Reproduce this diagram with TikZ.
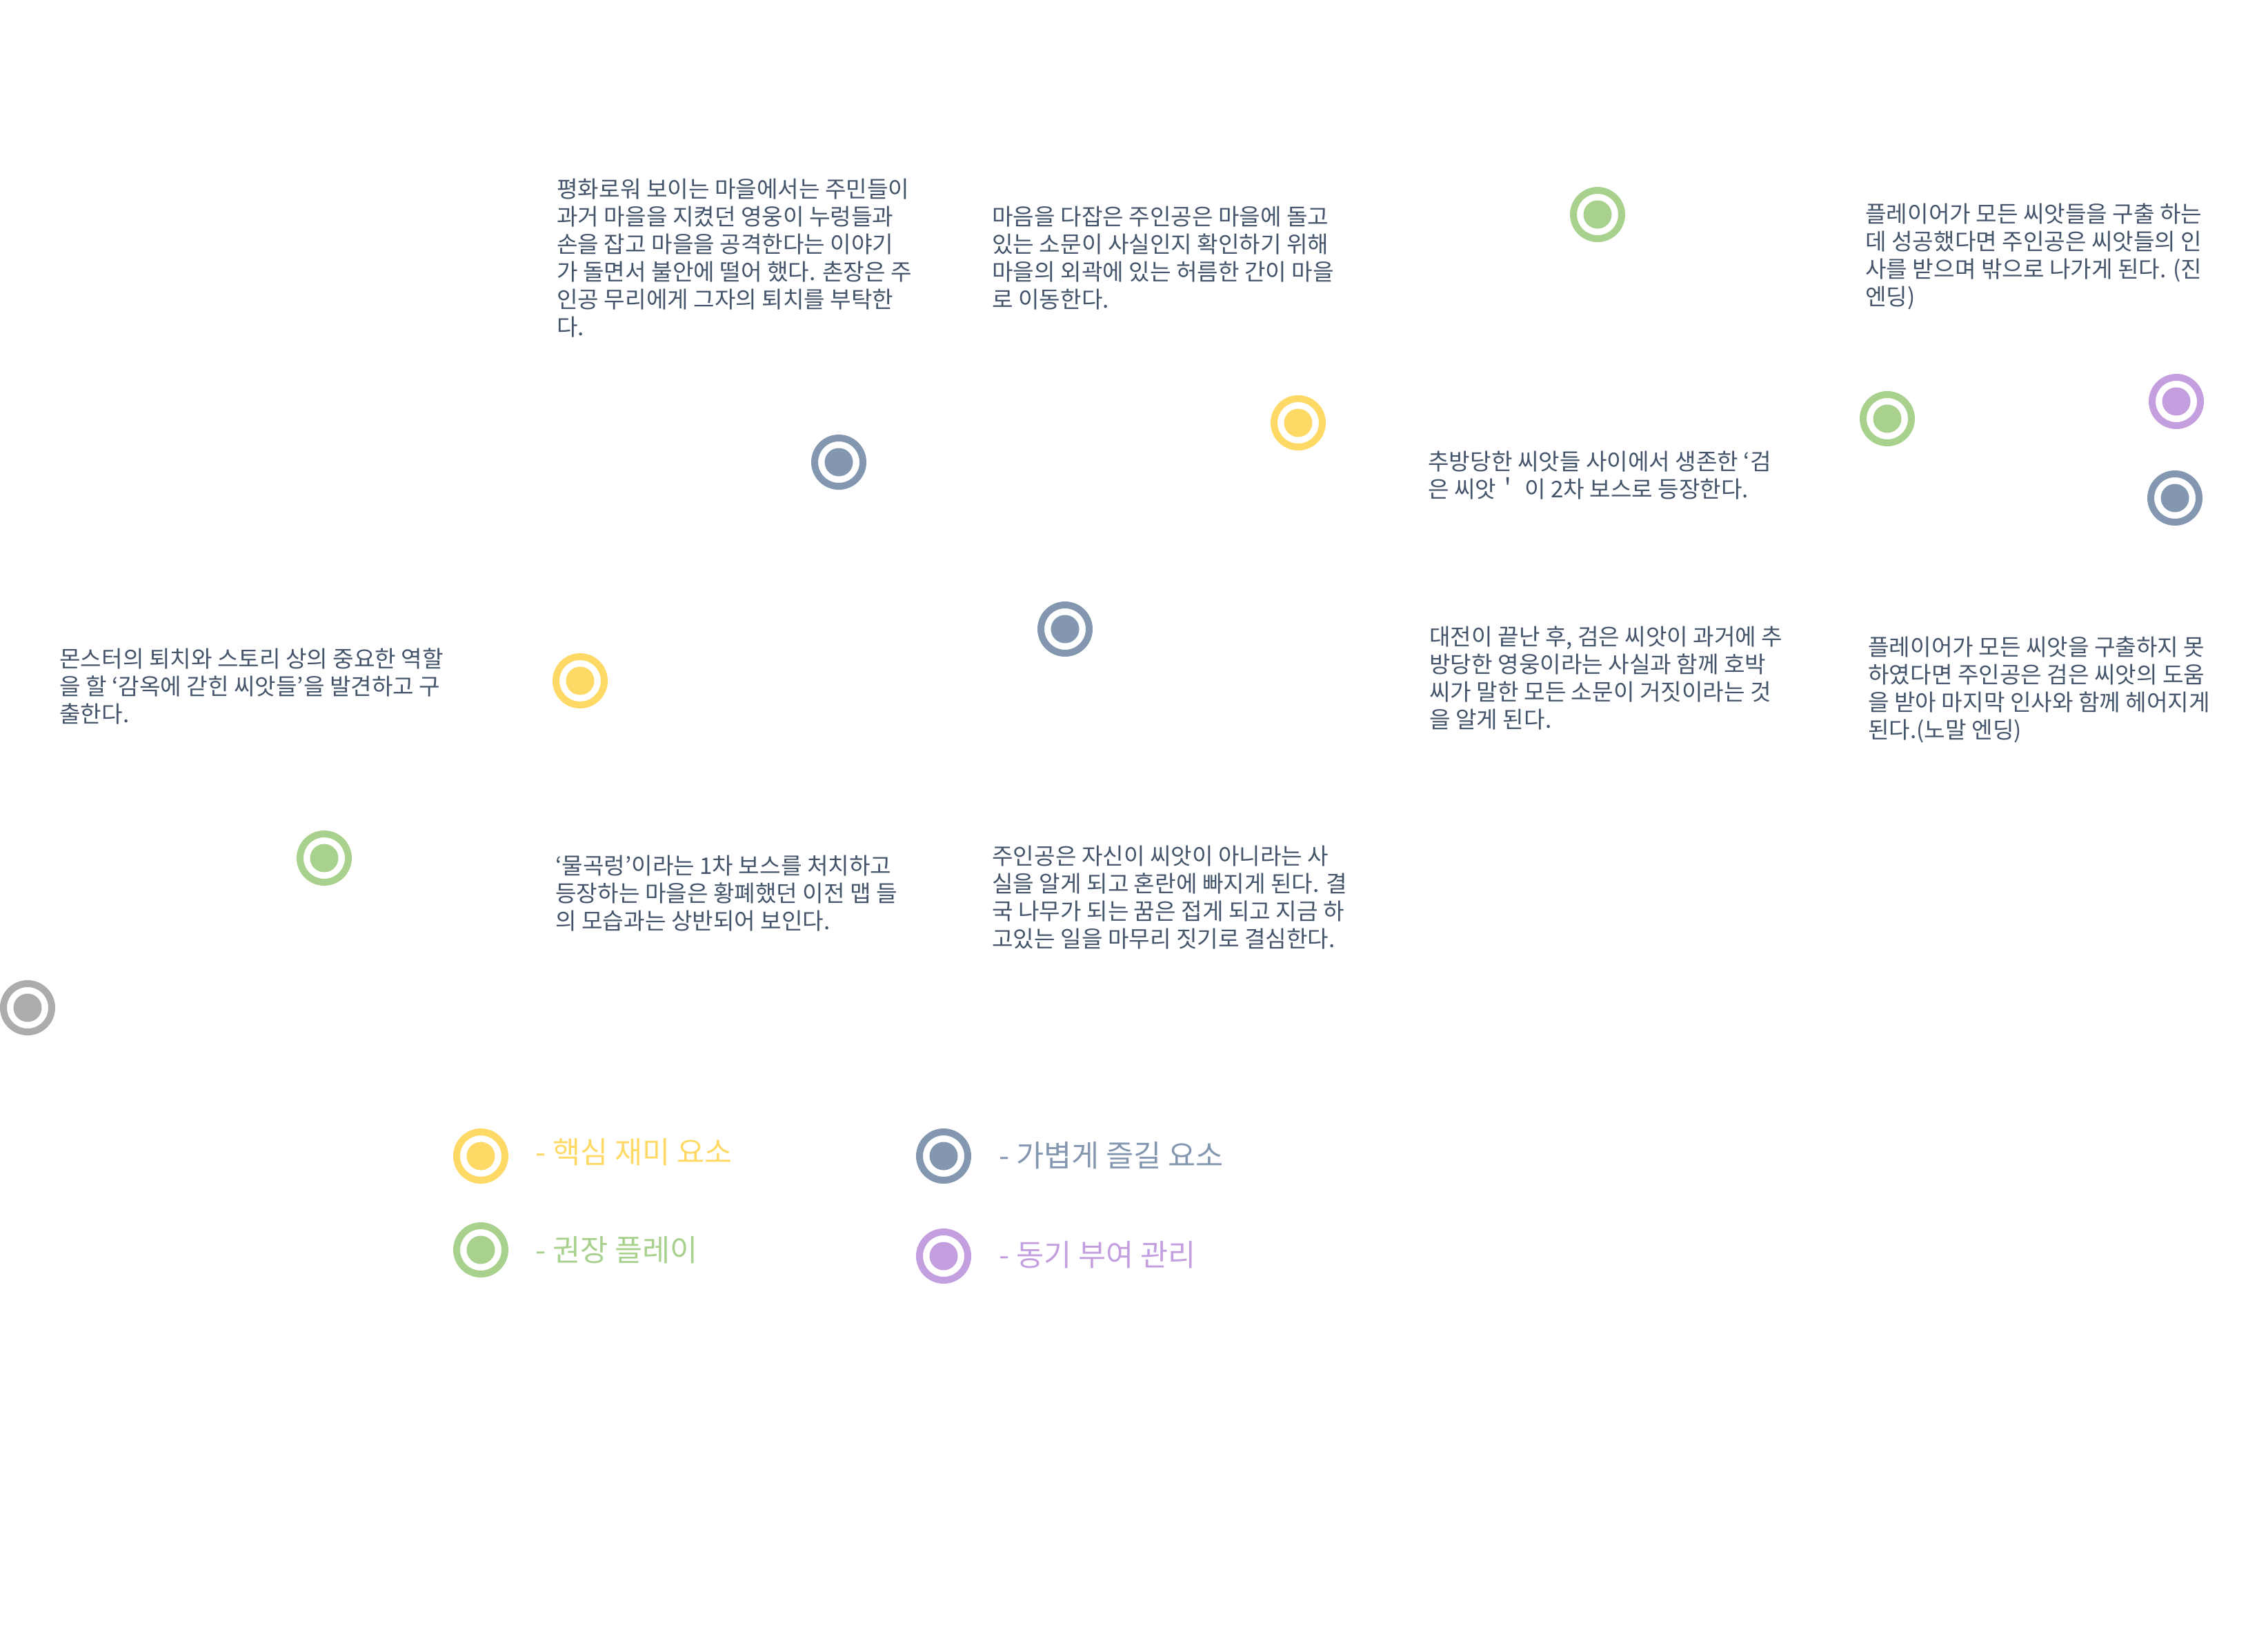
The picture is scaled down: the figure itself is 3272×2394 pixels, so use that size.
\documentclass[tikz,border=0pt]{standalone}
\usepackage{fontspec}
\setmainfont{Noto Sans CJK KR}
\definecolor{txtc}{HTML}{44546A}
\definecolor{ylw}{HTML}{FFD966}
\definecolor{grn}{HTML}{A9D18E}
\definecolor{blu}{HTML}{8497B0}
\definecolor{prp}{HTML}{C49FE0}
\definecolor{gry}{HTML}{AEABAB}
\tikzset{
  tgt/.style={circle, draw=#1, line width=5pt, minimum size=35pt, inner sep=0pt,
    path picture={\fill[#1] (path picture bounding box.center) circle[radius=10.25pt];}},
  body/.style={anchor=base west, align=left, inner sep=0pt, text=txtc,
    font=\fontsize{16.6pt}{20pt}\selectfont},
  legtxt/.style={anchor=base west, inner sep=0pt, text=#1,
    font=\fontsize{21.8pt}{24pt}\selectfont}
}
\begin{document}
\begin{tikzpicture}[x=0.5pt,y=-0.5pt]
\useasboundingbox (0,0) rectangle (3272,2394);
% target markers
\node[tgt=grn] (g1) at (2316,311) {};
\node[tgt=ylw] (y1) at (1882,613) {};
\node[tgt=blu] (b1) at (1216,670) {};
\node[tgt=grn] (g2) at (2736,607) {};
\node[tgt=prp] (p1) at (3155,582) {};
\node[tgt=blu] (b2) at (3153,722) {};
\node[tgt=blu] (b3) at (1544,912) {};
\node[tgt=ylw] (y2) at (841,987) {};
\node[tgt=grn] (g3) at (470,1244) {};
\node[tgt=gry] (k1) at (40,1461) {};
% text blocks (anchor = baseline of last line)
\node[body] (t1) at (807,486) {평화로워 보이는 마을에서는 주민들이\\과거 마을을 지켰던 영웅이 누렁들과\\손을 잡고 마을을 공격한다는 이야기\\가 돌면서 불안에 떨어 했다. 촌장은 주\\인공 무리에게 그자의 퇴치를 부탁한\\다.};
\node[body] (t2) at (1438,446) {마음을 다잡은 주인공은 마을에 돌고\\있는 소문이 사실인지 확인하기 위해\\마을의 외곽에 있는 허름한 간이 마을\\로 이동한다.};
\node[body] (t3) at (2070,721) {추방당한 씨앗들 사이에서 생존한 ‘검\\은 씨앗＇ 이 2차 보스로 등장한다.};
\node[body] (t4) at (2704,442) {플레이어가 모든 씨앗들을 구출 하는\\데 성공했다면 주인공은 씨앗들의 인\\사를 받으며 밖으로 나가게 된다. (진\\엔딩)};
\node[body] (t5) at (86,1047) {몬스터의 퇴치와 스토리 상의 중요한 역할\\을 할 ‘감옥에 갇힌 씨앗들’을 발견하고 구\\출한다.};
\node[body] (t6) at (805,1347) {‘물곡렁’이라는 1차 보스를 처치하고\\등장하는 마을은 황폐했던 이전 맵 들\\의 모습과는 상반되어 보인다.};
\node[body] (t7) at (1438,1373) {주인공은 자신이 씨앗이 아니라는 사\\실을 알게 되고 혼란에 빠지게 된다. 결\\국 나무가 되는 꿈은 접게 되고 지금 하\\고있는 일을 마무리 짓기로 결심한다.};
\node[body] (t8) at (2072,1055) {대전이 끝난 후, 검은 씨앗이 과거에 추\\방당한 영웅이라는 사실과 함께 호박\\씨가 말한 모든 소문이 거짓이라는 것\\을 알게 된다.};
\node[body] (t9) at (2708,1070) {플레이어가 모든 씨앗을 구출하지 못\\하였다면 주인공은 검은 씨앗의 도움\\을 받아 마지막 인사와 함께 헤어지게\\된다.(노말 엔딩)};
% legend
\node[tgt=ylw] (ly) at (697,1676) {};
\node[tgt=blu] (lb) at (1368,1676) {};
\node[tgt=grn] (lg) at (697,1812) {};
\node[tgt=prp] (lp) at (1368,1821) {};
\node[legtxt=ylw] (lyt) at (776,1686) {- 핵심 재미 요소};
\node[legtxt=blu] (lbt) at (1448,1691) {- 가볍게 즐길 요소};
\node[legtxt=grn] (lgt) at (776,1828) {- 권장 플레이};
\node[legtxt=prp] (lpt) at (1448,1835) {- 동기 부여 관리};
\end{tikzpicture}
\end{document}
